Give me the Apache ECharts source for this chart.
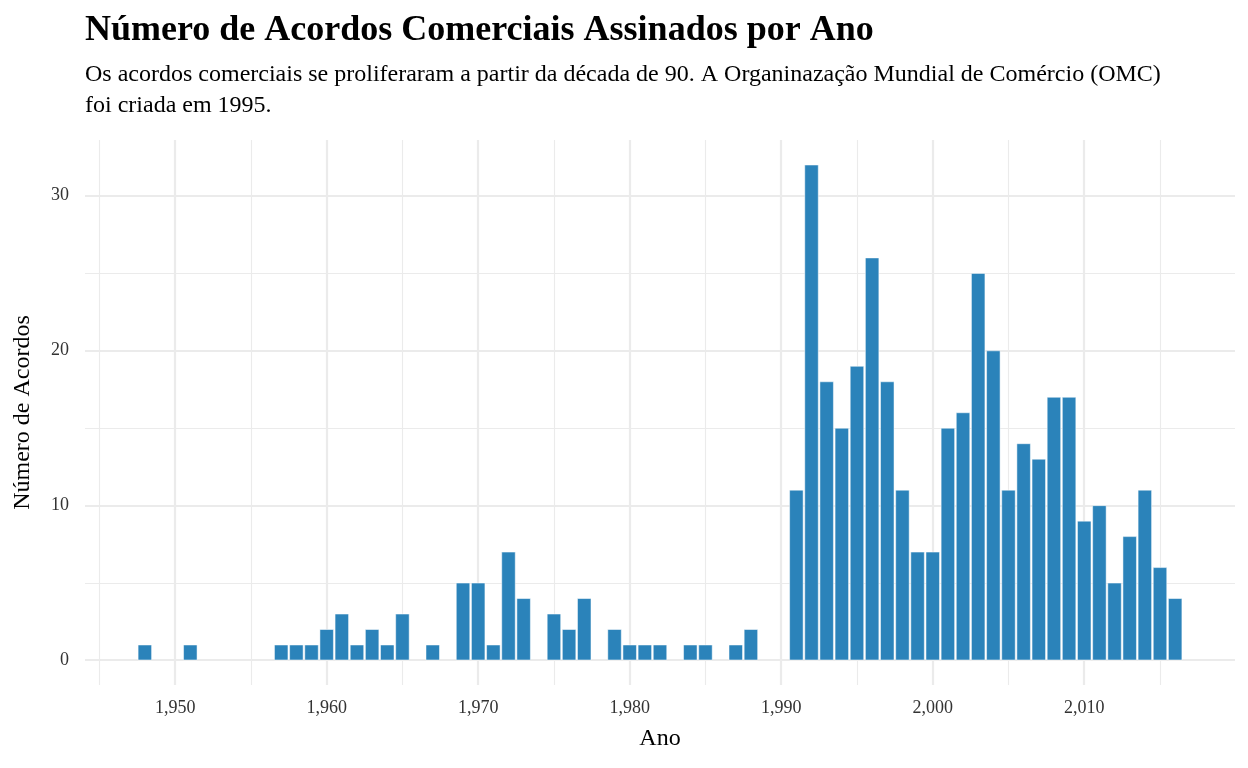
<!DOCTYPE html>
<html>
<head>
<meta charset="utf-8">
<script src="https://cdn.jsdelivr.net/npm/echarts@6/dist/echarts.min.js"></script>
<style>
  body { margin: 0; background: #fff; }
  #chart-container { width: 1248px; height: 768px; }
</style>
</head>
<body>
<div id="chart-container"></div>
<script>
var anos = [1948, 1951, 1957, 1958, 1959, 1960, 1961, 1962, 1963, 1964, 1965, 1967, 1969, 1970, 1971, 1972, 1973, 1975, 1976, 1977, 1979, 1980, 1981, 1982, 1984, 1985, 1987, 1988, 1991, 1992, 1993, 1994, 1995, 1996, 1997, 1998, 1999, 2000, 2001, 2002, 2003, 2004, 2005, 2006, 2007, 2008, 2009, 2010, 2011, 2012, 2013, 2014, 2015, 2016];
var acordos = [1, 1, 1, 1, 1, 2, 3, 1, 2, 1, 3, 1, 5, 5, 1, 7, 4, 3, 2, 4, 2, 1, 1, 1, 1, 1, 1, 2, 11, 32, 18, 15, 19, 26, 18, 11, 7, 7, 15, 16, 25, 20, 11, 14, 13, 17, 17, 9, 10, 5, 8, 11, 6, 4];
var xMajor = [1950, 1960, 1970, 1980, 1990, 2000, 2010];
var xMinor = [1945, 1955, 1965, 1975, 1985, 1995, 2005, 2015];
var yMajor = [0, 10, 20, 30];
var yMinor = [5, 15, 25];

var dom = document.getElementById('chart-container');
var myChart = echarts.init(dom, null, { renderer: 'canvas' });
var fonte = 'Liberation Sans Narrow';

var option = {
  animation: false,
  textStyle: { fontFamily: fonte },
  title: {
    text: 'Número de Acordos Comerciais Assinados por Ano',
    subtext: 'Os acordos comerciais se proliferaram a partir da década de 90. A Organinazação Mundial de Comércio (OMC)\nfoi criada em 1995.',
    left: 80, top: 8, itemGap: 10,
    textStyle: { fontFamily: fonte, fontSize: 36, fontWeight: 'bold', color: '#000' },
    subtextStyle: { fontFamily: fonte, fontSize: 24, color: '#000', lineHeight: 31 }
  },
  grid: { left: 85, right: 13, top: 140, bottom: 83 },
  xAxis: [
    {
      type: 'value', min: 1944.05, max: 2019.95,
      name: 'Ano', nameLocation: 'middle', nameGap: 42,
      nameTextStyle: { fontFamily: fonte, fontSize: 24, color: '#000' },
      axisLine: { show: false },
      axisTick: { show: false, customValues: xMajor },
      axisLabel: { customValues: xMajor, fontSize: 18, color: '#333', margin: 14 },
      splitLine: { show: true, lineStyle: { color: '#ebebeb', width: 2.2 } }
    },
    {
      type: 'value', min: 1944.05, max: 2019.95,
      axisLine: { show: false },
      axisTick: { show: false, customValues: xMinor },
      axisLabel: { show: false, customValues: xMinor },
      splitLine: { show: true, lineStyle: { color: '#ebebeb', width: 1.1 } }
    }
  ],
  yAxis: [
    {
      type: 'value', min: -1.6, max: 33.6,
      name: 'Número de Acordos', nameLocation: 'middle', nameGap: 50,
      nameTextStyle: { fontFamily: fonte, fontSize: 24, color: '#000' },
      axisLine: { show: false },
      axisTick: { show: false, customValues: yMajor },
      axisLabel: { customValues: yMajor, fontSize: 18, color: '#333', margin: 16 },
      splitLine: { show: true, lineStyle: { color: '#ebebeb', width: 2.2 } }
    },
    {
      type: 'value', min: -1.6, max: 33.6,
      axisLine: { show: false },
      axisTick: { show: false, customValues: yMinor },
      axisLabel: { show: false, customValues: yMinor },
      splitLine: { show: true, lineStyle: { color: '#ebebeb', width: 1.1 } }
    }
  ],
  series: [
    {
      type: 'bar',
      xAxisIndex: 0, yAxisIndex: 0,
      barWidth: 14,
      itemStyle: { color: '#2b83ba', borderColor: '#ffffff', borderWidth: 0.5 },
      data: anos.map(function (a, i) { return [a, acordos[i]]; })
    }
  ]
};

myChart.setOption(option);
</script>
</body>
</html>
